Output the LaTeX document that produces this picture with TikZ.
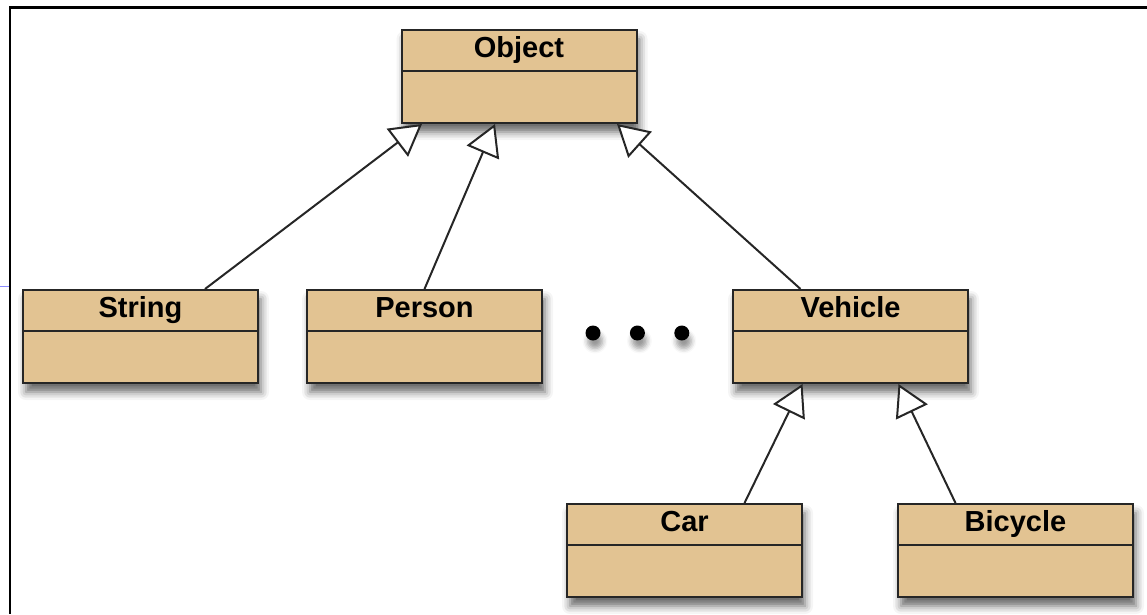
\documentclass[tikz,border=0pt]{standalone}
\usepackage{fontspec}
\setmainfont{Liberation Sans}
\usepackage{xcolor}
\usetikzlibrary{positioning,arrows.meta,shadows.blur}
\definecolor{classtan}{RGB}{226,195,146}

\tikzset{
    umlclass/.style={draw=black!85, fill=classtan, line width=2pt,
        minimum width=235pt, inner xsep=0pt, inner ysep=0pt,
        text height=27pt, text depth=66pt,
        font=\fontsize{29}{34}\selectfont\bfseries,
        blur shadow={shadow xshift=3pt, shadow yshift=-9pt,
            shadow blur radius=8pt, shadow opacity=60},
        path picture={\draw[line width=2pt, black!85]
            ([yshift=-41pt]path picture bounding box.north west) --
            ([yshift=-41pt]path picture bounding box.north east);}},
    isa/.style={draw=black!85, line width=2pt,
        -{Triangle[open, length=31pt, width=35pt, fill=white]}},
    ellipsisdot/.style={circle, fill=black, minimum size=15pt, inner sep=0pt,
        blur shadow={shadow xshift=2pt, shadow yshift=-8pt,
            shadow blur radius=5pt, shadow opacity=40}}
}

\begin{document}
\begin{tikzpicture}[x=1pt,y=-1pt]
    \useasboundingbox (0,0) rectangle (1147,614);
    % frame
    \draw[line width=2.4pt] (9,7.5) -- (1147,7.5);
    \draw[line width=2.4pt] (10,7.5) -- (10,614);
    \draw[blue!45, line width=0.8pt] (0,286) -- (9,286);

    \node[umlclass, anchor=north] (object) at (519,29) {Object};
    \node[umlclass, anchor=north] (string) at (140.5,289) {String};
    \node[umlclass] (person) [right = 47pt of string] {Person};
    \node[umlclass] (vehicle) [right = 189pt of person] {Vehicle};
    \node[umlclass, anchor=north] (car) at (684.5,503) {Car};
    \node[umlclass] (bicycle) [right = 94pt of car] {Bicycle};

    \node[ellipsisdot] (dot1) at (593,333) {};
    \node[ellipsisdot] (dot2) [right = 29pt of dot1] {};
    \node[ellipsisdot] (dot3) [right = 29pt of dot2] {};

    \draw[isa] ([xshift=64.5pt]string.north) -- ([xshift=-97pt]object.south);
    \draw[isa] (person.north) -- ([xshift=-24pt]object.south);
    \draw[isa] ([xshift=-50pt]vehicle.north) -- ([xshift=98pt]object.south);
    \draw[isa] ([xshift=60pt]car.north) -- ([xshift=-48pt]vehicle.south);
    \draw[isa] ([xshift=-60pt]bicycle.north) -- ([xshift=48pt]vehicle.south);
\end{tikzpicture}
\end{document}
